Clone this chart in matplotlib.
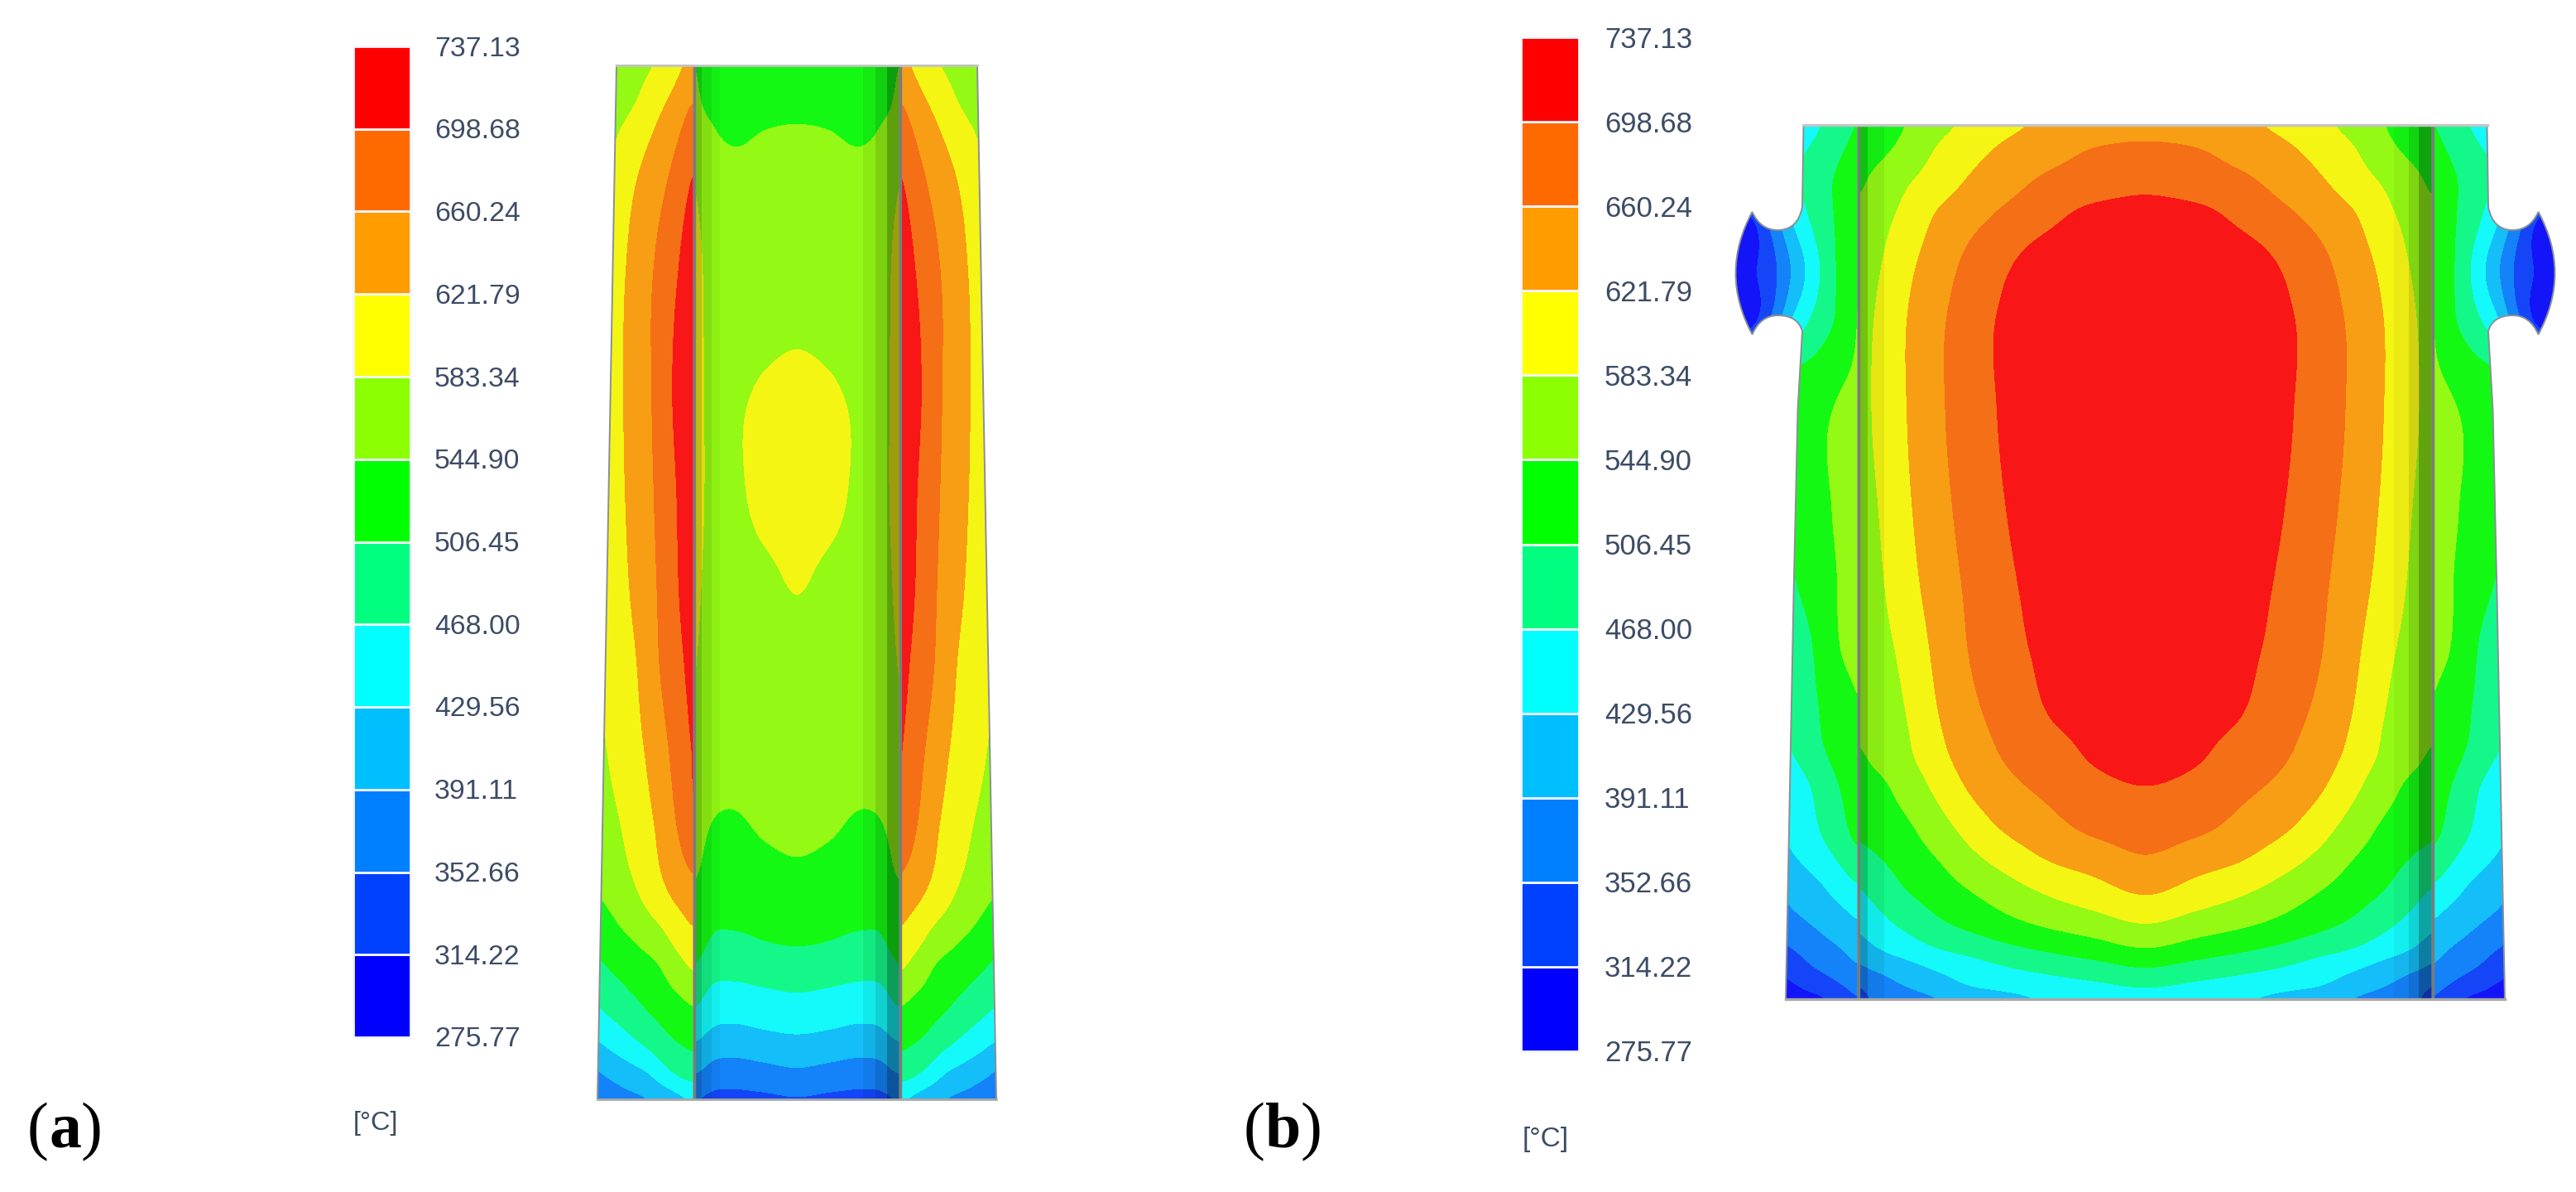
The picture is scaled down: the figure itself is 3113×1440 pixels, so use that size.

import numpy as np
import matplotlib

matplotlib.use("Agg")
import matplotlib.pyplot as plt
from matplotlib.patches import PathPatch, Rectangle
from matplotlib.path import Path

W, H = 3113, 1440

LEVELS = [275.77, 314.22, 352.66, 391.11, 429.56, 468.00, 506.45,
          544.90, 583.34, 621.79, 660.24, 698.68, 737.13]
LEVEL_LABELS = ["275.77", "314.22", "352.66", "391.11", "429.56", "468.00", "506.45",
                "544.90", "583.34", "621.79", "660.24", "698.68", "737.13"]
BAR_COLORS = ["#0000FF", "#0040FF", "#0080FF", "#00BFFF", "#00FFFF", "#00FF80",
              "#00FF00", "#8CFF00", "#FFFF00", "#FF9C00", "#FF6A00", "#FF0000"]
BAND_COLORS = ["#1414F8", "#1446F8", "#1482F8", "#14BEF8", "#14F9F9", "#14F88A",
               "#14F914", "#94F914", "#F5F514", "#F89E14", "#F56F16", "#F91616"]

# panel (a), cylinder part: columns are distance from the axis, rows are height in the picture
A_CORE_U = [0, 40, 80, 105, 118, 125]
A_CORE_Y = [79, 120, 150, 200, 300, 420, 500, 600, 700, 800, 950, 1000, 1050,
            1100, 1150, 1200, 1250, 1290, 1328]
A_CORE_T = [
    [522, 522, 522, 525, 540, 548],
    [535, 533, 530, 535, 545, 560],
    [545, 543, 538, 546, 555, 570],
    [552, 552, 550, 555, 565, 585],
    [562, 562, 560, 565, 588, 610],
    [583, 578, 568, 572, 592, 620],
    [596, 592, 577, 575, 592, 622],
    [597, 593, 575, 575, 592, 620],
    [586, 576, 568, 572, 585, 610],
    [572, 568, 565, 568, 575, 595],
    [558, 555, 550, 552, 556, 570],
    [552, 548, 540, 544, 552, 560],
    [541, 536, 530, 533, 545, 552],
    [522, 518, 515, 516, 527, 533],
    [503, 500, 494, 498, 511, 518],
    [467, 462, 456, 460, 478, 484],
    [429, 424, 418, 423, 435, 438],
    [391, 384, 378, 383, 397, 400],
    [348, 343, 340, 342, 350, 352],
]

# panel (a), flat part beside the cylinder
A_SIDE_U = [124.5, 135, 150, 165, 180, 195, 210, 225, 245]
A_SIDE_Y = [79, 120, 172, 243, 355, 466, 600, 720, 809, 899, 988, 1077, 1166,
            1218, 1258, 1294, 1328]
A_SIDE_T = [
    [640, 624, 604, 588, 578, 568, 558, 548, 540],
    [662, 648, 628, 612, 596, 581, 570, 560, 552],
    [690, 673, 652, 636, 620, 606, 592, 578, 570],
    [712, 695, 674, 656, 640, 626, 606, 580, 560],
    [725, 712, 693, 673, 654, 637, 620, 590, 570],
    [728, 716, 700, 675, 654, 638, 622, 595, 575],
    [725, 712, 692, 670, 651, 635, 619, 595, 570],
    [722, 709, 687, 665, 646, 629, 612, 592, 565],
    [715, 699, 679, 661, 641, 618, 604, 594, 575],
    [706, 689, 667, 648, 627, 612, 600, 588, 570],
    [700, 680, 654, 632, 614, 601, 587, 575, 560],
    [650, 640, 627, 612, 596, 580, 568, 555, 543],
    [592, 580, 565, 545, 536, 528, 519, 510, 498],
    [545, 537, 528, 518, 509, 497, 487, 477, 462],
    [515, 511, 504, 491, 478, 465, 453, 441, 424],
    [489, 483, 470, 452, 431, 421, 411, 401, 386],
    [432, 424, 410, 397, 388, 382, 376, 370, 362],
]

# panel (b), cylinder part
B_CORE_U = [0, 60, 120, 170, 210, 250, 290, 320, 338, 347]
B_CORE_Y = [151, 179, 222, 258, 298, 377, 496, 614, 720, 786, 886, 912, 945,
            1000, 1033, 1081, 1116, 1145, 1169, 1193, 1207]
B_CORE_T = [
    [645, 637, 628, 610, 592, 570, 544, 530, 522, 515],
    [666, 661, 643, 627, 608, 586, 553, 537, 528, 522],
    [690, 680, 668, 646, 628, 604, 579, 558, 545, 535],
    [712, 708, 687, 666, 646, 625, 592, 570, 559, 553],
    [722, 717, 706, 687, 664, 637, 605, 578, 565, 558],
    [730, 724, 716, 703, 680, 652, 619, 589, 574, 566],
    [730, 725, 717, 703, 681, 654, 620, 592, 577, 568],
    [728, 722, 712, 698, 675, 648, 614, 585, 572, 565],
    [725, 718, 708, 691, 667, 639, 604, 578, 566, 560],
    [720, 715, 705, 686, 663, 632, 592, 572, 560, 553],
    [712, 706, 692, 669, 647, 617, 579, 565, 555, 548],
    [708, 703, 682, 663, 641, 611, 575, 557, 545, 538],
    [700, 692, 670, 652, 630, 596, 560, 540, 532, 528],
    [678, 669, 646, 626, 599, 567, 538, 528, 520, 515],
    [660, 643, 626, 601, 577, 548, 525, 508, 498, 493],
    [622, 603, 583, 561, 542, 522, 502, 480, 467, 460],
    [583, 566, 550, 533, 517, 500, 476, 457, 444, 436],
    [545, 529, 513, 498, 483, 469, 448, 432, 418, 410],
    [506, 492, 478, 465, 450, 435, 415, 400, 390, 382],
    [468, 457, 447, 437, 428, 408, 389, 370, 355, 348],
    [445, 438, 430, 413, 400, 387, 370, 358, 348, 342],
]

# panel (b), flat part and the ears
B_SIDE_U = [347, 365, 385, 405, 425, 445, 470, 500]
B_SIDE_Y = [151, 219, 258, 329, 400, 444, 495, 614, 681, 786, 853, 899, 952,
            1018, 1068, 1091, 1141, 1178, 1207]
B_SIDE_T = [
    [510, 492, 473, 455, 437, 430, 420, 410],
    [535, 517, 500, 483, 465, 450, 430, 400],
    [548, 518, 498, 472, 440, 395, 330, 290],
    [550, 522, 484, 441, 398, 351, 313, 285],
    [552, 520, 502, 478, 450, 395, 330, 290],
    [552, 537, 524, 513, 505, 495, 480, 470],
    [565, 553, 540, 527, 512, 500, 490, 480],
    [563, 553, 541, 526, 510, 496, 485, 475],
    [560, 550, 537, 522, 507, 492, 480, 470],
    [553, 548, 525, 502, 488, 476, 465, 455],
    [545, 530, 514, 498, 482, 468, 455, 445],
    [535, 522, 510, 491, 473, 455, 440, 425],
    [525, 510, 491, 466, 449, 435, 420, 405],
    [512, 492, 469, 452, 436, 420, 405, 390],
    [470, 452, 433, 420, 407, 392, 375, 360],
    [448, 433, 420, 408, 396, 382, 365, 350],
    [408, 396, 384, 371, 358, 345, 335, 320],
    [382, 368, 352, 340, 323, 310, 300, 290],
    [351, 330, 310, 302, 294, 288, 280, 278],
]

TEXT_COLOR = "#3D4C66"


def hermite(x, xp, fp, flat_start=False):
    """Cubic through the read values, so contours bend instead of kinking."""
    m = np.gradient(fp, xp)
    if flat_start:
        m[0] = 0.0
    i = np.clip(np.searchsorted(xp, x, side="right") - 1, 0, len(xp) - 2)
    h = xp[i + 1] - xp[i]
    s = np.clip((x - xp[i]) / h, 0, 1)
    return ((2 * s**3 - 3 * s**2 + 1) * fp[i] + (s**3 - 2 * s**2 + s) * h * m[i]
            + (-2 * s**3 + 3 * s**2) * fp[i + 1] + (s**3 - s**2) * h * m[i + 1])


def resample(u, y, t, step=2.0, passes=14, flat_start=False):
    u, y, t = np.asarray(u, float), np.asarray(y, float), np.asarray(t, float)
    fu = np.arange(u[0], u[-1] + step, step)
    fy = np.arange(y[0], y[-1] + step, step)
    by_row = np.array([hermite(fu, u, row, flat_start) for row in t])
    out = np.array([hermite(fy, y, col) for col in by_row.T]).T
    for _ in range(passes):
        p = np.pad(out, 1, mode="edge")
        out = (p[1:-1, :-2] + 2 * p[1:-1, 1:-1] + p[1:-1, 2:]) / 4
        p = np.pad(out, 1, mode="edge")
        out = (p[:-2, 1:-1] + 2 * p[1:-1, 1:-1] + p[2:, 1:-1]) / 4
    return fu, fy, out


def draw_field(ax, x, y, t, clip_path):
    patch = PathPatch(clip_path, transform=ax.transData, fc="none", ec="none")
    ax.add_patch(patch)
    cs = ax.contourf(x, y, np.clip(t, LEVELS[0] + 0.01, LEVELS[-1] - 0.01), levels=LEVELS,
                     colors=BAND_COLORS, antialiased=False)
    cs.set_clip_path(patch)


def rect_path(x0, x1, y0, y1):
    return Path([(x0, y0), (x1, y0), (x1, y1), (x0, y1), (x0, y0)],
                [Path.MOVETO, Path.LINETO, Path.LINETO, Path.LINETO, Path.CLOSEPOLY])


def draw_core(ax, cx, u, y, t):
    fu, fy, ft = resample(u, y, t, flat_start=True)
    xs = np.concatenate([cx - fu[:0:-1], cx + fu])
    full = np.hstack([ft[:, :0:-1], ft])
    draw_field(ax, xs, fy, full, rect_path(cx - u[-1], cx + u[-1], y[0], y[-1]))


def draw_side(ax, cx, u, y, t, outline, codes):
    fu, fy, ft = resample(u, y, t)
    for s in (-1, 1):
        pts = [(cx + s * a, b) for a, b in outline]
        xs = cx + s * fu
        if s < 0:
            draw_field(ax, xs[::-1], fy, ft[:, ::-1], Path(pts, codes))
        else:
            draw_field(ax, xs, fy, ft, Path(pts, codes))
        ax.add_patch(PathPatch(Path(pts, codes), fc="none", ec="#8a8f96", lw=1.4))


def draw_shade(ax, cx, half, y0, y1, stripes):
    for s, a, b, alpha in stripes:
        x0, x1 = sorted((cx + s * a, cx + s * b))
        ax.add_patch(Rectangle((x0, y0), x1 - x0, y1 - y0, fc="black", ec="none", alpha=alpha))
    for s in (-1, 1):
        ax.plot([cx + s * half] * 2, [y0, y1], color="#7b7b7b", lw=2.4, solid_capstyle="butt")


def draw_colorbar(ax, x0, x1, y_top, y_bot, label_x, unit_pos, fs):
    # value axis of the bar: top label is the highest level, bottom one the lowest
    scale = (y_bot - y_top) / (LEVELS[-1] - LEVELS[0])
    to_y = lambda v: y_bot - (v - LEVELS[0]) * scale
    for lo, hi, c in zip(LEVELS[:-1], LEVELS[1:], BAR_COLORS):
        ax.add_patch(Rectangle((x0, to_y(hi)), x1 - x0, to_y(lo) - to_y(hi),
                               fc=c, ec="#F4F6FF", lw=2.0))
    for v, lab in zip(LEVELS, LEVEL_LABELS):
        ax.text(label_x, to_y(v) + 3, lab, family="Liberation Sans", fontsize=fs,
                color=TEXT_COLOR, ha="left", va="center")
    ax.text(unit_pos[0], unit_pos[1], "[°C]", family="Liberation Sans", fontsize=fs - 1,
            color=TEXT_COLOR, ha="left", va="center")


def panel_tag(ax, x, y, letter):
    fs = 56
    ax.text(x, y, "(", family="Liberation Serif", fontsize=fs, color="black", ha="left", va="baseline")
    ax.text(x + 26, y, letter, family="Liberation Serif", weight="bold", fontsize=fs,
            color="black", ha="left", va="baseline")
    ax.text(x + 65 + (4 if letter == "b" else 0), y, ")", family="Liberation Serif", fontsize=fs,
            color="black", ha="left", va="baseline")


fig = plt.figure(figsize=(W / 100, H / 100), dpi=100, facecolor="white")
ax = fig.add_axes([0, 0, 1, 1])
ax.set_xlim(0, W)
ax.set_ylim(H, 0)
ax.axis("off")

# (a)
CX_A = 963
draw_core(ax, CX_A, A_CORE_U, A_CORE_Y, A_CORE_T)
draw_shade(ax, CX_A, 124.5, 79, 1328, [
    (-1, 115, 124.5, 0.22), (-1, 103, 115, 0.10), (-1, 93, 103, 0.04),
    (1, 109, 124.5, 0.36), (1, 95, 109, 0.16), (1, 80, 95, 0.06),
])
draw_side(ax, CX_A, A_SIDE_U, A_SIDE_Y, A_SIDE_T,
          [(124.5, 79), (218, 79), (241, 1328), (124.5, 1328), (124.5, 79)],
          [Path.MOVETO, Path.LINETO, Path.LINETO, Path.LINETO, Path.CLOSEPOLY])
ax.plot([CX_A - 218, CX_A + 218], [79, 79], color="#c4c4c4", lw=2)
ax.plot([CX_A - 241, CX_A + 241], [1328, 1328], color="#a8a8a8", lw=2)
draw_colorbar(ax, 427, 496, 56, 1253, 525, (427, 1357), 24.3)
panel_tag(ax, 33, 1386, "a")

# (b)
CX_B = 2592.5
draw_core(ax, CX_B, B_CORE_U, B_CORE_Y, B_CORE_T)
draw_shade(ax, CX_B, 347, 151, 1207, [
    (-1, 336, 347, 0.22), (-1, 316, 336, 0.06),
    (1, 330, 347, 0.34), (1, 318, 330, 0.14), (1, 300, 318, 0.04),
])
B_OUTLINE = [(347, 151), (413, 151), (414.5, 250),
             (420, 278), (444, 278), (465, 278), (475, 256),
             (515, 330), (475, 404),
             (465, 381), (444, 381), (420, 381), (414.5, 400),
             (420, 495), (425, 720), (434.5, 1207), (347, 1207), (347, 151)]
B_CODES = [Path.MOVETO, Path.LINETO, Path.LINETO,
           Path.CURVE3, Path.CURVE3, Path.CURVE3, Path.CURVE3,
           Path.CURVE3, Path.CURVE3,
           Path.CURVE3, Path.CURVE3, Path.CURVE3, Path.CURVE3,
           Path.LINETO, Path.LINETO, Path.LINETO, Path.LINETO, Path.CLOSEPOLY]
draw_side(ax, CX_B, B_SIDE_U, B_SIDE_Y, B_SIDE_T, B_OUTLINE, B_CODES)
ax.plot([CX_B - 413, CX_B + 413], [151, 151], color="#c4c4c4", lw=2.4)
ax.plot([CX_B - 434.5, CX_B + 434.5], [1207, 1207], color="#a8a8a8", lw=2.4)
draw_colorbar(ax, 1838, 1908, 45, 1270, 1939, (1840, 1376), 25)
panel_tag(ax, 1503, 1386, "b")

fig.savefig("out.png", dpi=100, facecolor="white")
